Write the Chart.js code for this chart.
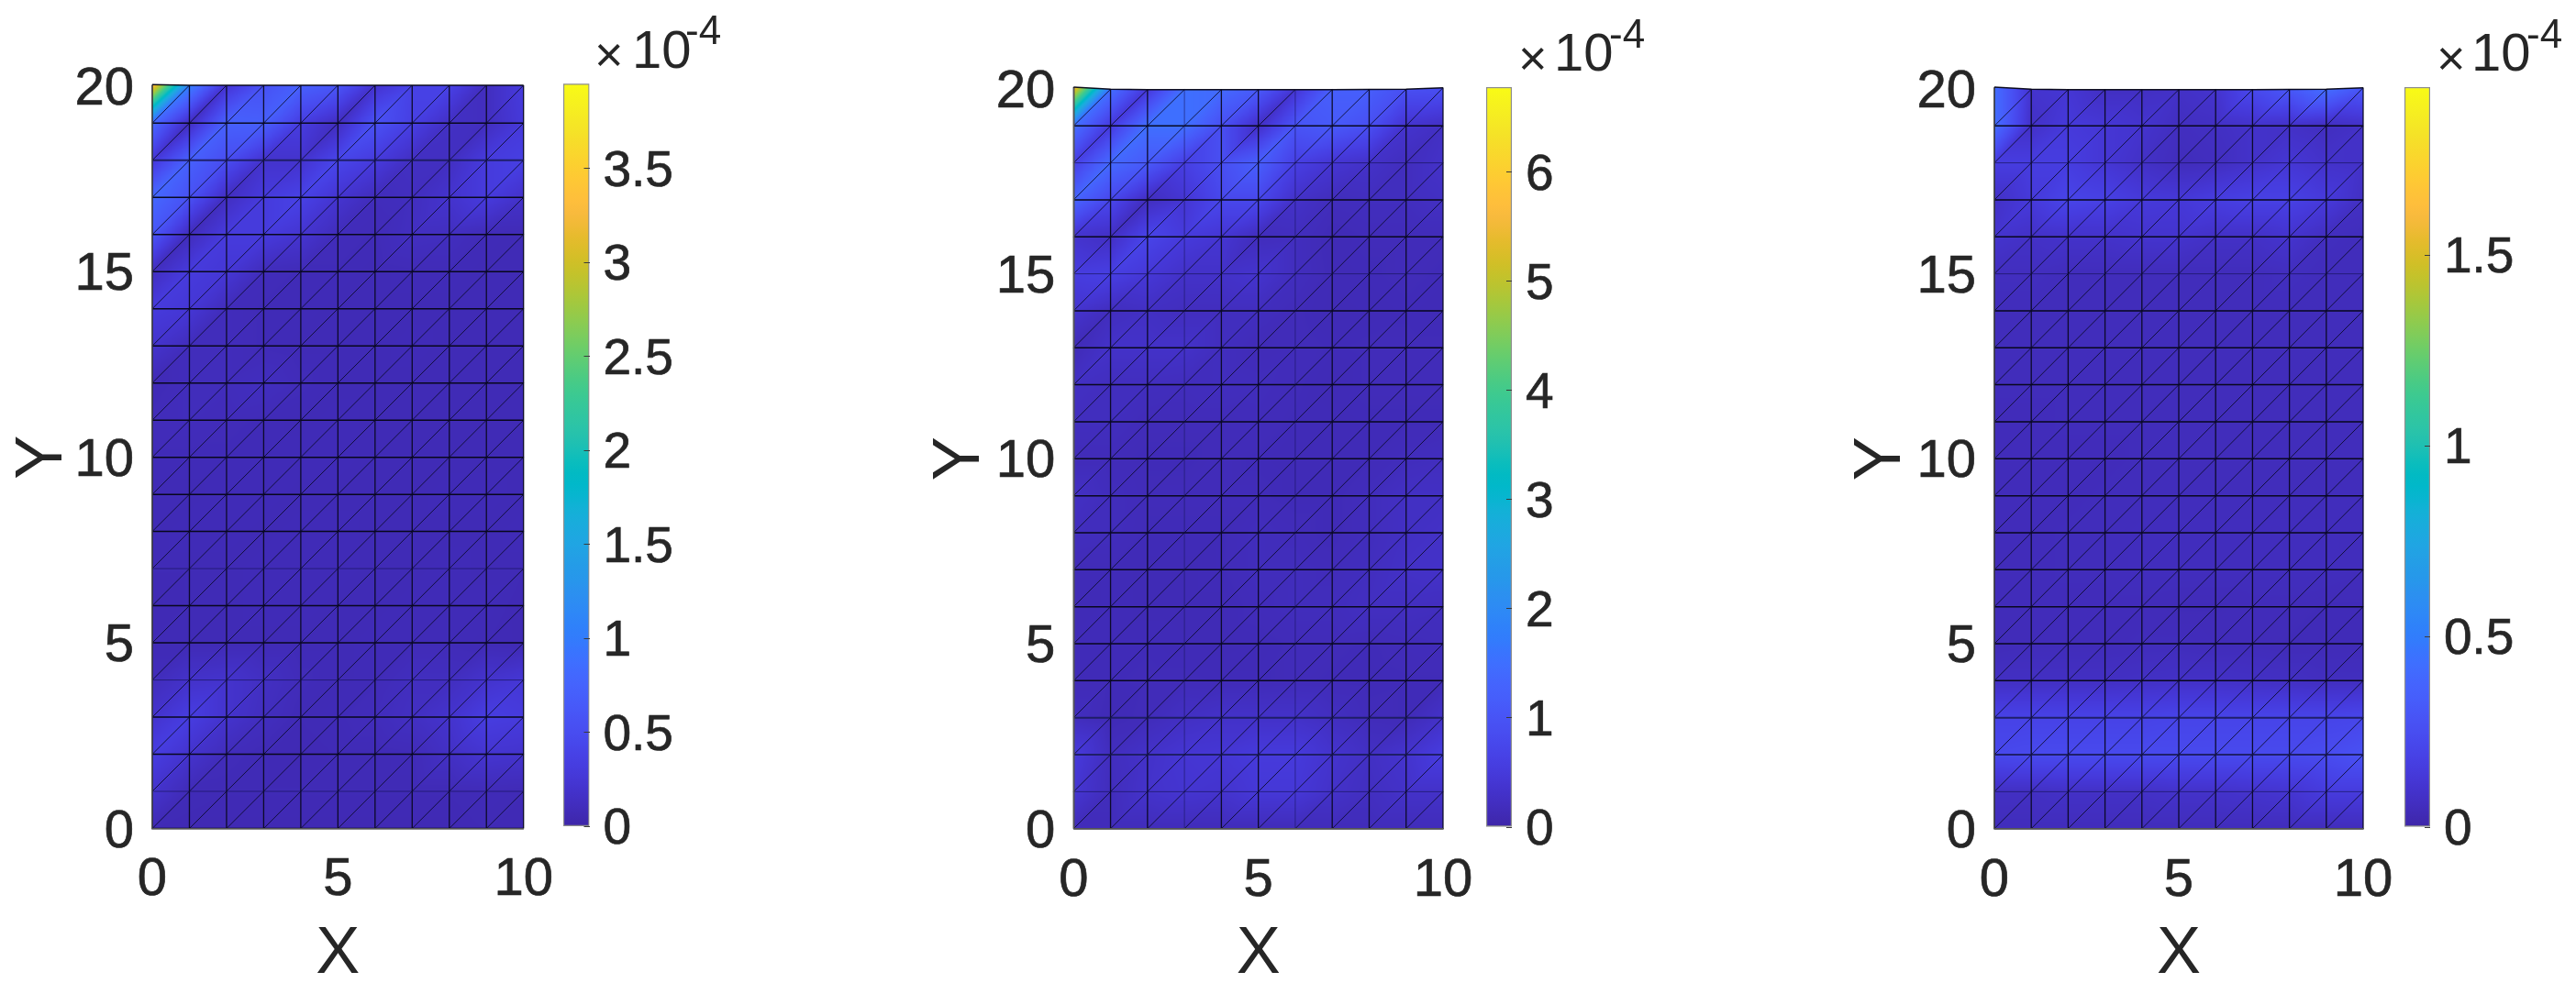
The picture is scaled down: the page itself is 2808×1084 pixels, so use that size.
<!DOCTYPE html>
<html><head><meta charset="utf-8">
<script src="https://cdn.jsdelivr.net/npm/chart.js@4/dist/chart.umd.min.js"></script>
<style>html,body{margin:0;padding:0;background:#fff;width:2808px;height:1084px;overflow:hidden}
canvas{position:absolute;top:0}</style></head><body>
<script>
// ---------- data: vertex values (x 1e-4), rows y=20 down to y=0, columns x=0..10 ----------
const xTicks=[0,5,10];
const yTicks=[0,5,10,15,20];
const cbTicks1=[0,0.5,1,1.5,2,2.5,3,3.5];
const cbTicks2=[0,1,2,3,4,5,6];
const cbTicks3=[0,0.5,1,1.5];
const cbMax1=3.95, cbMax2=6.78, cbMax3=1.94;
const topEdge1=[20.04,20.02,20.02,20.02,20.02,20.02,20.02,20.02,20.02,20.02,20.02];
const topEdge2=[20.05,19.99,19.98,19.98,19.98,19.98,19.98,19.98,19.985,19.99,20.03];
const topEdge3=[20.05,19.99,19.98,19.98,19.98,19.98,19.98,19.98,19.985,19.99,20.03];
const field1=[
[3.40,1.05,.22,.55,.72,.60,.20,.38,.38,.12,.30],
[.80,.12,.72,.70,.32,.12,.55,.35,.15,.12,.28],
[.25,.72,.50,.20,.20,.42,.30,.14,.13,.30,.35],
[.80,.55,.13,.30,.38,.22,.10,.12,.20,.30,.18],
[.60,.10,.30,.30,.22,.10,.08,.13,.12,.08,.07],
[.12,.30,.25,.10,.08,.08,.07,.08,.08,.07,.07],
[.30,.25,.10,.08,.08,.07,.07,.07,.07,.07,.07],
[.20,.10,.10,.08,.07,.07,.07,.08,.07,.07,.07],
[.07,.10,.10,.12,.09,.07,.07,.07,.07,.07,.07],
[.09,.10,.09,.08,.07,.08,.07,.07,.07,.07,.07],
[.08,.08,.08,.08,.08,.08,.07,.07,.07,.07,.07],
[.07,.07,.08,.08,.07,.07,.07,.07,.08,.08,.07],
[.07,.08,.08,.07,.08,.08,.07,.07,.07,.07,.08],
[.07,.07,.07,.08,.08,.08,.07,.07,.08,.07,.07],
[.06,.07,.07,.08,.08,.07,.07,.08,.08,.08,.06],
[.07,.07,.07,.07,.07,.07,.08,.08,.08,.07,.06],
[.10,.18,.20,.14,.09,.07,.08,.12,.12,.20,.25],
[.20,.33,.20,.12,.07,.08,.10,.14,.20,.33,.30],
[.33,.20,.10,.07,.06,.07,.07,.08,.15,.22,.20],
[.20,.08,.07,.07,.07,.07,.07,.07,.07,.08,.07],
[.07,.06,.06,.06,.06,.06,.06,.06,.06,.07,.06]];
const field2=[
[5.70,1.50,.45,1.50,1.40,1.10,.40,1.20,1.20,.90,.90],
[1.50,.50,1.50,1.50,.90,.25,1.00,1.10,.90,.35,.25],
[.60,1.40,1.10,.60,.90,1.20,.60,.40,.30,.20,.30],
[1.30,.75,.20,.40,.75,.75,.30,.18,.20,.20,.25],
[.35,.25,.70,.50,.40,.18,.20,.12,.15,.15,.15],
[.55,.60,.45,.30,.30,.35,.20,.13,.14,.15,.14],
[.35,.20,.25,.20,.20,.20,.15,.12,.13,.14,.13],
[.14,.30,.30,.30,.20,.14,.16,.14,.15,.15,.15],
[.25,.20,.20,.18,.20,.18,.15,.12,.15,.15,.15],
[.20,.20,.15,.15,.15,.16,.14,.13,.14,.14,.14],
[.15,.15,.14,.14,.15,.14,.13,.13,.14,.18,.20],
[.25,.18,.15,.15,.15,.15,.13,.13,.18,.25,.25],
[.20,.18,.14,.14,.14,.18,.16,.13,.18,.25,.28],
[.14,.14,.12,.12,.14,.18,.18,.16,.20,.28,.30],
[.13,.14,.12,.12,.12,.16,.18,.18,.22,.22,.20],
[.14,.14,.14,.13,.12,.13,.15,.15,.14,.16,.17],
[.14,.14,.15,.15,.14,.14,.15,.14,.13,.14,.14],
[.20,.12,.16,.25,.30,.30,.30,.22,.16,.14,.30],
[.50,.20,.30,.40,.42,.50,.50,.35,.25,.35,.55],
[.40,.18,.32,.38,.35,.45,.45,.30,.22,.30,.30],
[.16,.16,.16,.16,.16,.16,.16,.16,.16,.16,.16]];
const field3=[
[.42,.10,.12,.07,.07,.08,.10,.22,.30,.42,.30],
[.42,.08,.14,.12,.10,.06,.07,.09,.08,.06,.08],
[.16,.16,.16,.12,.08,.05,.06,.09,.12,.09,.08],
[.08,.14,.20,.18,.14,.13,.16,.18,.18,.14,.07],
[.10,.08,.09,.09,.10,.10,.08,.08,.10,.06,.05],
[.06,.06,.05,.05,.05,.05,.05,.05,.06,.05,.05],
[.05,.05,.05,.05,.05,.05,.05,.05,.05,.05,.05],
[.05,.05,.05,.05,.05,.05,.05,.05,.05,.05,.05],
[.05,.05,.05,.05,.05,.05,.05,.05,.05,.05,.05],
[.045,.045,.05,.05,.05,.05,.05,.05,.05,.05,.05],
[.045,.045,.045,.045,.05,.05,.05,.05,.05,.05,.05],
[.045,.045,.045,.05,.05,.05,.05,.05,.05,.05,.05],
[.045,.045,.05,.05,.055,.055,.055,.055,.055,.055,.05],
[.045,.045,.05,.05,.055,.055,.055,.055,.055,.055,.05],
[.045,.045,.045,.045,.045,.04,.04,.045,.045,.04,.04],
[.04,.045,.045,.045,.05,.05,.045,.045,.04,.04,.04],
[.07,.07,.07,.07,.075,.08,.08,.075,.07,.06,.06],
[.19,.19,.19,.19,.19,.20,.20,.20,.20,.20,.21],
[.22,.23,.23,.23,.23,.23,.23,.23,.23,.24,.27],
[.07,.07,.08,.08,.08,.09,.09,.10,.11,.15,.15],
[.05,.05,.05,.05,.05,.05,.05,.05,.05,.05,.05]];
const faintRows1=[4,1,7], faintRows2=[18,15,1], faintRows3=[18,15,1];
const navyRows1=[18], navyRows2=[3,2], navyRows3=[3,2];
const faintCols1=[], faintCols2=[3,6], faintCols3=[];
const parula=[[.2422,.1504,.6603],[.2504,.1650,.7076],[.2578,.1818,.7511],[.2647,.1978,.7952],[.2706,.2147,.8364],[.2751,.2342,.8710],[.2783,.2559,.8991],[.2803,.2782,.9221],[.2813,.3006,.9414],[.2810,.3228,.9579],[.2795,.3447,.9717],[.2760,.3667,.9829],[.2699,.3892,.9906],[.2602,.4123,.9952],[.2440,.4358,.9988],[.2206,.4603,.9973],[.1963,.4847,.9892],[.1834,.5074,.9798],[.1786,.5289,.9682],[.1764,.5499,.9520],[.1687,.5703,.9359],[.1540,.5902,.9218],[.1460,.6091,.9079],[.1380,.6276,.8973],[.1248,.6459,.8883],[.1113,.6635,.8763],[.0952,.6798,.8598],[.0689,.6948,.8394],[.0297,.7082,.8163],[.0036,.7203,.7917],[.0067,.7312,.7660],[.0433,.7411,.7394],[.0964,.7500,.7120],[.1408,.7584,.6842],[.1717,.7670,.6554],[.1938,.7758,.6251],[.2161,.7843,.5923],[.2470,.7918,.5567],[.2906,.7973,.5188],[.3406,.8008,.4789],[.3909,.8029,.4354],[.4456,.8024,.3909],[.5044,.7993,.3480],[.5616,.7942,.3045],[.6174,.7876,.2612],[.6720,.7793,.2227],[.7242,.7698,.1910],[.7738,.7598,.1646],[.8203,.7498,.1535],[.8634,.7406,.1596],[.9035,.7330,.1774],[.9393,.7288,.2100],[.9728,.7298,.2394],[.9956,.7434,.2371],[.9970,.7659,.2199],[.9952,.7893,.2028],[.9892,.8136,.1885],[.9786,.8386,.1766],[.9676,.8639,.1643],[.9610,.8890,.1537],[.9597,.9135,.1423],[.9628,.9373,.1265],[.9691,.9606,.1064],[.9769,.9839,.0805]];
// ---------- layout ----------
const FONT='"Liberation Sans", Arial, sans-serif', INK='#262626';
const H=1084;
const panels=[
 {field:field1,top:topEdge1,fr:faintRows1,nr:navyRows1,fc:faintCols1,ticks:cbTicks1,max:cbMax1,cv:0,l:166,r:570.7,t:93.8,b:903.5,ytp:4,
  cb:{l:614,r:642.5,t:91.3,b:901.3,tx:648,tyx:78,ty:74,t10:689,texp:747,yexp:48}},
 {field:field2,top:topEdge2,fr:faintRows2,nr:navyRows2,fc:faintCols2,ticks:cbTicks2,max:cbMax2,cv:1000,l:1170.3,r:1573,t:96.9,b:903.7,ytp:4.3,
  cb:{l:1620,r:1648,t:95,b:902,tx:1655,tyx:82,ty:77,t10:1694,texp:1754,yexp:52}},
 {field:field3,top:topEdge3,fr:faintRows3,nr:navyRows3,fc:faintCols3,ticks:cbTicks3,max:cbMax3,cv:2000,l:2174,r:2576,t:96.9,b:903.7,ytp:8,
  cb:{l:2621,r:2649,t:95,b:902,tx:2656,tyx:82,ty:77,t10:2694,texp:2754,yexp:52}}];
function mapColor(t){
  t=Math.max(0,Math.min(1,t))*(parula.length-1);
  const i=Math.min(parula.length-2,Math.floor(t)),f=t-i,a=parula[i],b=parula[i+1];
  return [0,1,2].map(k=>255*(a[k]+(b[k]-a[k])*f));
}
// Gouraud-shaded triangle mesh, positioned through the chart's own scales
const meshPlugin={id:'mesh',beforeDatasetsDraw(chart){
  const m=chart.options.plugins.mesh;if(!m)return;
  const sx=chart.scales.x,sy=chart.scales.y,ds=chart.data.datasets[0].data;
  const rows=21,cols=11,P=(r,c)=>{const d=ds[r*cols+c];return [sx.getPixelForValue(d.x),sy.getPixelForValue(d.y),d.v]};
  const ox=Math.floor(chart.chartArea.left)-2,oy=Math.floor(chart.chartArea.top)-6;
  const w=Math.ceil(chart.chartArea.width)+4,h=Math.ceil(chart.chartArea.height)+10;
  const off=document.createElement('canvas');off.width=w;off.height=h;
  const oc=off.getContext('2d'),img=oc.createImageData(w,h),px=img.data;
  function tri(A,B,C){
    const x0=Math.max(0,Math.floor(Math.min(A[0],B[0],C[0]))-ox-1),x1=Math.min(w-1,Math.ceil(Math.max(A[0],B[0],C[0]))-ox+1);
    const y0=Math.max(0,Math.floor(Math.min(A[1],B[1],C[1]))-oy-1),y1=Math.min(h-1,Math.ceil(Math.max(A[1],B[1],C[1]))-oy+1);
    const den=(B[1]-C[1])*(A[0]-C[0])+(C[0]-B[0])*(A[1]-C[1]);
    for(let y=y0;y<=y1;y++)for(let x=x0;x<=x1;x++){
      const X=x+ox+.5,Y=y+oy+.5;
      const a=((B[1]-C[1])*(X-C[0])+(C[0]-B[0])*(Y-C[1]))/den;
      const b=((C[1]-A[1])*(X-C[0])+(A[0]-C[0])*(Y-C[1]))/den;
      const g=1-a-b;
      if(a<-1e-3||b<-1e-3||g<-1e-3)continue;
      const col=mapColor((a*A[2]+b*B[2]+g*C[2])/m.max),i=(y*w+x)*4;
      px[i]=col[0];px[i+1]=col[1];px[i+2]=col[2];px[i+3]=255;
    }
  }
  for(let r=0;r<rows-1;r++)for(let c=0;c<cols-1;c++){
    const tl=P(r,c),tr=P(r,c+1),bl=P(r+1,c),br=P(r+1,c+1);
    tri(bl,tl,tr);tri(bl,br,tr);
  }
  oc.putImageData(img,0,0);
  chart.ctx.drawImage(off,ox,oy);
}};
// ×10^-4 exponent label over each colorbar
const expoPlugin={id:'expo',afterDraw(chart){
  const e=chart.options.plugins.expo;if(!e)return;
  const c=chart.ctx;c.save();c.fillStyle=INK;c.textBaseline='alphabetic';c.textAlign='left';
  c.font='54px '+FONT;c.fillText('×',e.tx,e.tyx);
  c.font='58px '+FONT;c.fillText('10',e.t10,e.ty);
  c.font='44px '+FONT;c.fillText('-4',e.texp,e.yexp);
  c.restore();
}};
function meshData(p){
  const Y=(i,c)=>i===20?p.top[c]:i;
  const strong=[],faint=[],navy=[],vert=[],vfaint=[],diag=[],gap={x:NaN,y:NaN};
  for(let i=0;i<=20;i++){
    const t=p.fr.includes(i)?faint:p.nr.includes(i)?navy:strong;
    for(let c=0;c<=10;c++)t.push({x:c,y:Y(i,c)});
    t.push(gap);
  }
  for(let c=0;c<=10;c++){
    const t=p.fc.includes(c)?vfaint:vert;
    for(let i=0;i<=20;i++)t.push({x:c,y:Y(i,c)});
    t.push(gap);
  }
  for(let i=0;i<20;i++)for(let c=0;c<10;c++){diag.push({x:c,y:i},{x:c+1,y:Y(i+1,c+1)},gap);}
  return {strong,faint,navy,vert,vfaint,diag};
}
const lineDs=(label,data,color,width)=>({type:'scatter',label,data,showLine:true,pointRadius:0,borderColor:color,borderWidth:width,clip:false,spanGaps:false,tension:0});
const tickFont=(size)=>({font:{family:FONT,size},color:INK,textStrokeWidth:0.7,textStrokeColor:INK});
panels.forEach((p,n)=>{
  // main panel
  const W=Math.round(p.r+48-p.cv);
  const cv=document.createElement('canvas');cv.width=W;cv.height=H;cv.style.left=p.cv+'px';cv.style.width=W+'px';cv.style.height=H+'px';
  document.body.appendChild(cv);
  const verts=[];
  p.field.forEach((row,r)=>row.forEach((v,c)=>verts.push({x:c,y:r===0?p.top[c]:20-r,v})));
  const mesh=meshData(p);
  new Chart(cv,{type:'scatter',plugins:[meshPlugin],
    data:{datasets:[
      {label:'Field',data:verts,pointRadius:0,showLine:false},
      lineDs('diagonals',mesh.diag,'rgba(10,10,42,.88)',1),
      lineDs('faint rows',mesh.faint,'rgba(25,22,95,.7)',1),
      lineDs('navy rows',mesh.navy,'rgba(28,28,95,.92)',2),
      lineDs('faint columns',mesh.vfaint,'rgba(25,22,95,.6)',1),
      lineDs('columns',mesh.vert,'rgba(8,8,28,.92)',1.3),
      lineDs('rows',mesh.strong,'rgba(5,5,20,.95)',1.5)
    ]},
    options:{responsive:false,animation:false,devicePixelRatio:1,events:[],
      layout:{padding:{top:p.t,right:W-(p.r-p.cv),left:0,bottom:0}},
      plugins:{legend:{display:false},tooltip:{enabled:false},title:{display:false},mesh:{max:p.max}},
      scales:{
        x:{type:'linear',min:0,max:10,grid:{display:false},border:{display:true,color:'#555',width:1.5,z:1},
           afterBuildTicks:s=>{s.ticks=xTicks.map(v=>({value:v}))},
           afterFit:s=>{s.height=H-p.b;s.paddingLeft=0;s.paddingRight=0},
           ticks:{...tickFont(58),padding:14,maxRotation:0,autoSkip:false,callback:v=>String(v)},
           title:{display:true,text:'X',font:{family:FONT,size:72},color:INK,padding:{top:25,bottom:0}}},
        y:{type:'linear',min:0,max:20,grid:{display:false},border:{display:true,color:'#555',width:1.5,z:1},
           afterBuildTicks:s=>{s.ticks=yTicks.map(v=>({value:v}))},
           afterFit:s=>{s.width=p.l-p.cv;s.paddingTop=0;s.paddingBottom=0},
           ticks:{...tickFont(58),padding:12,labelOffset:4,autoSkip:false,callback:v=>String(v)},
           title:{display:true,text:'Y',font:{family:FONT,size:72},color:INK,padding:{top:p.ytp,bottom:0}}}
      }}});
  // colorbar
  const c=p.cb,CL=c.l-12,CW=190;
  const cc=document.createElement('canvas');cc.width=CW;cc.height=H;cc.style.left=CL+'px';cc.style.width=CW+'px';cc.style.height=H+'px';
  document.body.appendChild(cc);
  new Chart(cc,{type:'bar',plugins:[expoPlugin],
    data:{labels:['colorbar'],datasets:[{label:'Scale',data:[[0,p.max]],barPercentage:1,categoryPercentage:1,borderWidth:1.5,borderColor:'#8c8c8c',borderSkipped:false,
      backgroundColor(ctx){
        const a=ctx.chart.chartArea;if(!a)return '#000';
        const g=ctx.chart.ctx.createLinearGradient(0,a.bottom,0,a.top);
        parula.forEach((s,i)=>g.addColorStop(i/(parula.length-1),'rgb('+s.map(q=>Math.round(q*255)).join(',')+')'));
        return g;
      }}]},
    options:{responsive:false,animation:false,devicePixelRatio:1,events:[],
      layout:{padding:{top:c.t,left:12,right:0,bottom:H-c.b}},
      plugins:{legend:{display:false},tooltip:{enabled:false},expo:{tx:c.tx-CL,tyx:c.tyx,ty:c.ty,t10:c.t10-CL,texp:c.texp-CL,yexp:c.yexp}},
      scales:{
        x:{display:false},
        y:{position:'right',min:0,max:p.max,border:{display:false},
           grid:{drawOnChartArea:false,drawTicks:true,tickLength:-6,color:'#3a3a3a',z:1},
           afterBuildTicks:s=>{s.ticks=p.ticks.map(v=>({value:v}))},
           afterFit:s=>{s.width=CW-12-(c.r-c.l);s.paddingTop=0;s.paddingBottom=0},
           ticks:{...tickFont(55),padding:21,labelOffset:4,autoSkip:false,callback:v=>String(v)}}
      }}});
});
</script></body></html>
